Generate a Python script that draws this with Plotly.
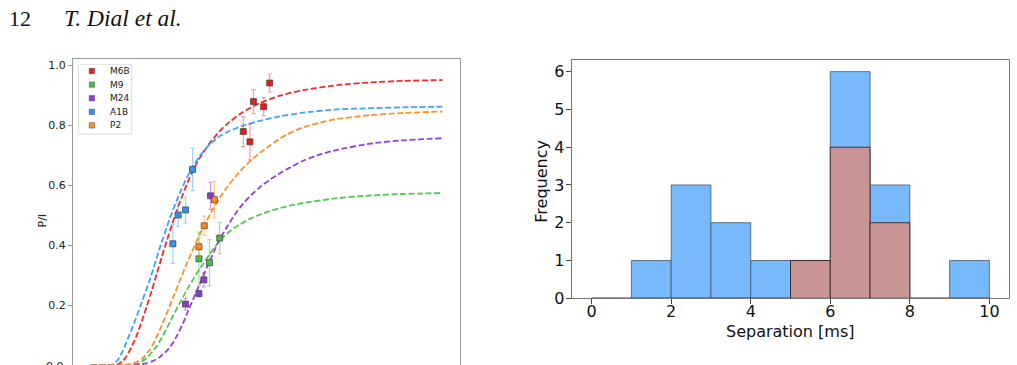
import plotly.graph_objects as go

W, H = 1017, 365

# ---------------- Left panel data (P/I vs. arbitrary x) ----------------
series = ["M6B", "M9", "M24", "A1B", "P2"]
line_colors = {"M6B": "#f42a2a", "M9": "#4fc94f", "M24": "#9440e0",
               "A1B": "#3da1ff", "P2": "#ff8f2e"}
marker_colors = {"M6B": "#f01818", "M9": "#46c046", "M24": "#8a3ad8",
                 "A1B": "#2f95f5", "P2": "#ff8a1e"}
err_colors = {"M6B": "rgba(240,60,60,0.5)", "M9": "rgba(70,190,70,0.5)",
              "M24": "rgba(140,60,215,0.5)", "A1B": "rgba(50,150,245,0.45)",
              "P2": "rgba(255,140,30,0.5)"}

# fitted curves
fit_x_A1B = [0, 4.84, 6.27, 7.69, 9.12, 10.54, 11.97, 14.44, 16.81, 19.66, 22.51, 25.36,
             28.21, 31.05, 33.9, 36.75, 39.6, 43.3, 48.15, 53.85, 60.4, 70.09, 79.49, 88.89, 100]
fit_y_A1B = [0, 0, 0.003, 0.017, 0.047, 0.087, 0.128, 0.207, 0.284, 0.391, 0.489, 0.575,
             0.645, 0.698, 0.737, 0.764, 0.782, 0.799, 0.815, 0.83, 0.842, 0.853, 0.857, 0.86, 0.862]

fit_x_M6B = [0, 7.69, 9.12, 10.26, 11.68, 13.11, 14.53, 15.95, 17.38, 18.8, 20.23, 21.65,
             23.08, 24.5, 25.93, 27.35, 29.06, 31.05, 33.9, 36.18, 38.75, 43.3, 48.15, 53.85,
             60.4, 70.09, 79.49, 88.89, 100]
fit_y_M6B = [0, 0.003, 0.014, 0.031, 0.062, 0.1, 0.146, 0.196, 0.249, 0.305, 0.361, 0.415,
             0.467, 0.516, 0.561, 0.603, 0.648, 0.692, 0.741, 0.774, 0.804, 0.844, 0.874, 0.899,
             0.917, 0.934, 0.943, 0.948, 0.951]

fit_x_P2 = [0, 11.11, 12.54, 14.53, 16.81, 18.23, 19.66, 21.08, 22.51, 23.93, 25.36, 26.78,
            28.21, 29.63, 31.05, 32.48, 34.76, 36.75, 38.75, 41.03, 43.3, 45.87, 48.15,
            51.0, 53.85, 55.84, 60.4, 65.24, 70.09, 79.49, 88.89, 100]
fit_y_P2 = [0, 0.003, 0.008, 0.021, 0.051, 0.082, 0.118, 0.157, 0.198, 0.24, 0.282, 0.323,
            0.362, 0.4, 0.436, 0.47, 0.52, 0.559, 0.593, 0.627, 0.657, 0.686, 0.708,
            0.733, 0.756, 0.77, 0.793, 0.809, 0.821, 0.834, 0.841, 0.846]

fit_x_M9 = [0, 12.54, 13.96, 16.24, 18.72, 20.51, 22.51, 23.93, 25.36, 26.78, 28.21, 31.05,
            33.9, 36.75, 39.6, 42.45, 45.3, 48.15, 51.0, 53.85, 56.7, 60.4, 70.09, 79.49,
            88.89, 100]
fit_y_M9 = [0, 0.003, 0.008, 0.028, 0.063, 0.098, 0.143, 0.176, 0.208, 0.239, 0.268, 0.322,
            0.372, 0.416, 0.447, 0.47, 0.488, 0.502, 0.514, 0.524, 0.532, 0.541, 0.557,
            0.566, 0.571, 0.574]

fit_x_M24 = [0, 13.96, 15.95, 17.66, 19.66, 21.65, 23.36, 24.79, 26.21, 27.64, 29.06, 31.05,
             32.48, 33.9, 36.18, 38.75, 41.03, 43.3, 45.87, 48.15, 51.0, 53.85, 55.84,
             60.4, 65.24, 70.09, 79.49, 88.89, 100]
fit_y_M24 = [0, 0.003, 0.007, 0.014, 0.028, 0.048, 0.074, 0.104, 0.138, 0.178, 0.218, 0.271,
             0.311, 0.348, 0.408, 0.461, 0.503, 0.538, 0.57, 0.594, 0.619, 0.64, 0.654,
             0.682, 0.703, 0.718, 0.739, 0.75, 0.757]

fits = {"M6B": (fit_x_M6B, fit_y_M6B), "M9": (fit_x_M9, fit_y_M9),
        "M24": (fit_x_M24, fit_y_M24), "A1B": (fit_x_A1B, fit_y_A1B),
        "P2": (fit_x_P2, fit_y_P2)}

# measured points
pts_x_M6B = [43.4, 45.3, 46.3, 49.2, 50.9]
pts_y_M6B = [0.779, 0.745, 0.879, 0.862, 0.941]
pts_e_M6B = [0.05, 0.06, 0.04, 0.03, 0.03]

pts_x_M9 = [30.8, 33.8, 36.7]
pts_y_M9 = [0.355, 0.342, 0.424]
pts_e_M9 = [0.089, 0.077, 0.052]

pts_x_M24 = [27.0, 30.8, 32.2, 34.1]
pts_y_M24 = [0.204, 0.239, 0.285, 0.565]
pts_e_M24 = [0.019, 0.01, 0.024, 0.045]

pts_x_A1B = [23.4, 24.9, 27.0, 29.0]
pts_y_A1B = [0.405, 0.501, 0.518, 0.653]
pts_e_A1B = [0.065, 0.039, 0.043, 0.071]

pts_x_P2 = [30.8, 32.3, 35.2]
pts_y_P2 = [0.395, 0.465, 0.552]
pts_e_P2 = [0.03, 0.032, 0.061]

points = {"M6B": (pts_x_M6B, pts_y_M6B, pts_e_M6B), "M9": (pts_x_M9, pts_y_M9, pts_e_M9),
          "M24": (pts_x_M24, pts_y_M24, pts_e_M24), "A1B": (pts_x_A1B, pts_y_A1B, pts_e_A1B),
          "P2": (pts_x_P2, pts_y_P2, pts_e_P2)}

pi_ticks = [0.2, 0.4, 0.6, 0.8, 1.0]

# ---------------- Right panel data (histogram) ----------------
bin_left = [0, 1, 2, 3, 4, 5, 6, 7, 8, 9]
counts_all = [0, 1, 3, 2, 1, 1, 6, 3, 0, 1]
counts_sub = [0, 0, 0, 0, 0, 1, 4, 2, 0, 0]
sep_ticks = [0, 2, 4, 6, 8, 10]
freq_ticks = [0, 1, 2, 3, 4, 5, 6]

fig = go.Figure()

# fitted curves
for s in ["M6B", "M9", "M24", "A1B", "P2"]:
    fx, fy = fits[s]
    fig.add_trace(go.Scatter(x=fx, y=fy, mode="lines", xaxis="x", yaxis="y",
                             line=dict(color=line_colors[s], width=1.8, dash="6px,2.6px",
                                       shape="spline", smoothing=0.6),
                             showlegend=False, hoverinfo="skip"))
# measured points with error bars
for s in ["A1B", "M9", "M24", "P2", "M6B"]:
    px_, py_, pe_ = points[s]
    fig.add_trace(go.Scatter(x=px_, y=py_, mode="markers", xaxis="x", yaxis="y",
                             marker=dict(symbol="square", size=6, color=marker_colors[s],
                                         line=dict(color="rgba(70,70,70,0.75)", width=1)),
                             error_y=dict(type="data", array=pe_, color=err_colors[s],
                                          thickness=1.2, width=2),
                             name=s, showlegend=False))

# histogram bars
fig.add_trace(go.Bar(x=bin_left, y=counts_all, width=1, offset=0, xaxis="x2", yaxis="y2",
                     marker=dict(color="#77b9fb", line=dict(color="rgba(60,80,105,0.75)", width=1)),
                     showlegend=False))
fig.add_trace(go.Bar(x=bin_left, y=counts_sub, width=1, offset=0, xaxis="x2", yaxis="y2",
                     marker=dict(color="#c99594", line=dict(color="rgba(50,30,30,0.85)", width=1)),
                     showlegend=False))

font_mpl = "DejaVu Sans"

fig.update_layout(
    width=W, height=H, margin=dict(l=0, r=0, t=0, b=0, autoexpand=False),
    paper_bgcolor="white", plot_bgcolor="white", barmode="overlay", showlegend=False,
    xaxis=dict(domain=[73 / W, 460 / W], range=[-5, 105], showgrid=False, zeroline=False,
               showticklabels=False, ticks="", showline=True, mirror=True, automargin=False,
               linecolor="#999999", linewidth=1, anchor="y"),
    yaxis=dict(domain=[0, (H - 59.3) / H], range=[0.001, 1.02], showgrid=False, zeroline=False,
               tickvals=pi_ticks, ticktext=[f"{v:.1f}" for v in pi_ticks],
               ticks="outside", ticklen=4, tickcolor="#999999", automargin=False,
               tickfont=dict(family=font_mpl, size=11, color="#222222"),
               showline=True, mirror=True, linecolor="#999999", linewidth=1, anchor="x"),
    xaxis2=dict(domain=[571.7 / W, 1009.3 / W], range=[-0.5, 10.5], showgrid=False,
                zeroline=False, tickvals=sep_ticks, ticks="outside", ticklen=5, automargin=False,
                ticklabelstandoff=-7,
                tickcolor="#444444", tickfont=dict(family=font_mpl, size=16, color="#111111"),
                showline=True, mirror=True, linecolor="#777777", linewidth=1, anchor="y2"),
    yaxis2=dict(domain=[(H - 298.3) / H, (H - 60.3) / H], range=[0, 6.3], showgrid=False,
                zeroline=False, tickvals=freq_ticks, ticks="outside", ticklen=5, automargin=False,
                ticklabelstandoff=-2,
                tickcolor="#444444", tickfont=dict(family=font_mpl, size=16, color="#111111"),
                showline=True, mirror=True, linecolor="#777777", linewidth=1, anchor="x2"),
)

annotations = [
    dict(text="12", x=7 / W, y=(H - 18) / H, xref="paper", yref="paper", xanchor="left",
         yanchor="middle", showarrow=False,
         font=dict(family="Liberation Serif", size=22, color="#111111")),
    dict(text="<i>T. Dial et al.</i>", x=62 / W, y=(H - 18) / H, xref="paper", yref="paper",
         xanchor="left", yanchor="middle", showarrow=False,
         font=dict(family="Liberation Serif", size=23.5, color="#111111")),
    dict(text="0.0", x=73 / W, y=0, xref="paper", yref="paper", xanchor="right",
         yanchor="middle", xshift=-7, yshift=-1, showarrow=False,
         font=dict(family=font_mpl, size=11, color="#222222")),
    dict(text="P/I", x=41.5 / W, y=(H - 221) / H, xref="paper", yref="paper",
         xanchor="center", yanchor="middle", textangle=-90, showarrow=False,
         font=dict(family=font_mpl, size=11, color="#222222")),
    dict(text="Frequency", x=542 / W, y=(H - 181.7) / H, xref="paper", yref="paper",
         xanchor="center", yanchor="middle", textangle=-90, showarrow=False,
         font=dict(family=font_mpl, size=16, color="#111111")),
    dict(text="Separation [ms]", x=790 / W, y=(H - 331) / H, xref="paper", yref="paper",
         xanchor="center", yanchor="middle", showarrow=False,
         font=dict(family=font_mpl, size=16, color="#111111")),
]

# manual legend (compact, matplotlib-like)
shapes = [dict(type="rect", xref="paper", yref="paper", x0=78.3 / W, x1=131.7 / W,
               y0=(H - 134) / H, y1=(H - 64.3) / H, line=dict(color="#dddddd", width=1),
               fillcolor="rgba(255,255,255,0.8)", layer="above")]
row_y = [71, 84.6, 98.2, 111.8, 125.4]
for s, ry in zip(series, row_y):
    shapes.append(dict(type="rect", xref="paper", yref="paper",
                       x0=89.2 / W, x1=94.6 / W, y0=(H - ry - 2.7) / H, y1=(H - ry + 2.7) / H,
                       fillcolor=marker_colors[s], line=dict(color="rgba(70,70,70,0.6)", width=0.8),
                       layer="above"))
    annotations.append(dict(text=s, x=107.5 / W, y=(H - ry) / H, xref="paper", yref="paper",
                            xanchor="left", yanchor="middle", showarrow=False,
                            font=dict(family=font_mpl, size=9, color="#222222")))

fig.update_layout(annotations=annotations, shapes=shapes)

fig.write_html("out.html")
